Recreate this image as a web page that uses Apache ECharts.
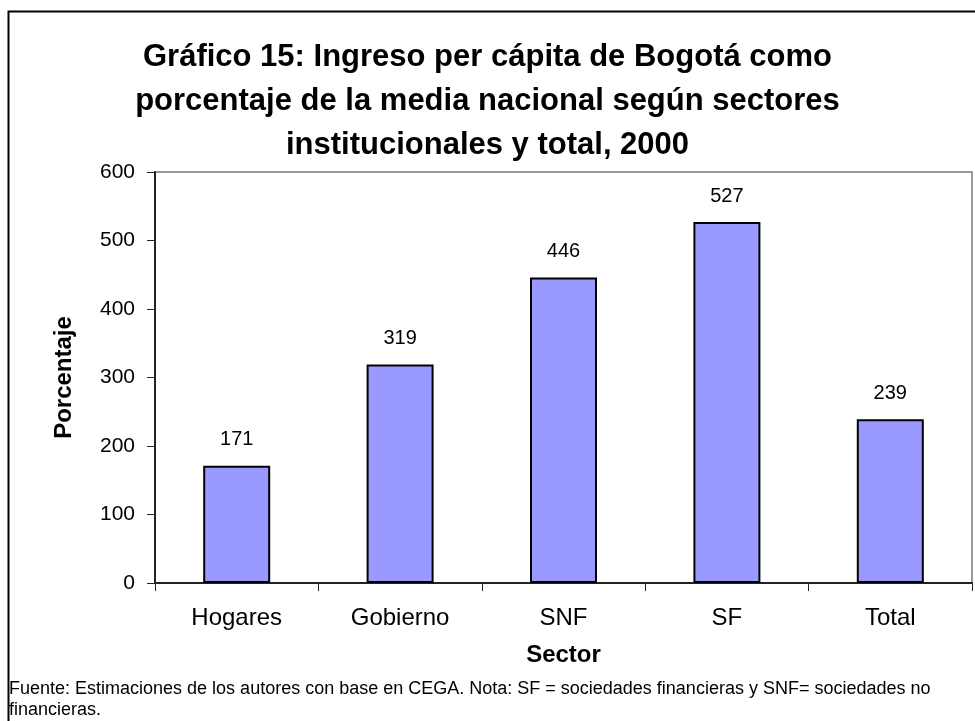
<!DOCTYPE html>
<html>
<head>
<meta charset="utf-8">
<script src="https://cdn.jsdelivr.net/npm/echarts@6/dist/echarts.min.js"></script>
<style>
  html, body { margin: 0; padding: 0; background: #fff; }
  #chart { width: 975px; height: 721px; }
</style>
</head>
<body>
<div id="chart"></div>
<script>
// categorias y valores
var sectores = ['Hogares', 'Gobierno', 'SNF', 'SF', 'Total'];
var porcentajes = [171, 319, 446, 527, 239];
var ticksY = [0, 100, 200, 300, 400, 500, 600];

var titulo = 'Gráfico 15: Ingreso per cápita de Bogotá como\nporcentaje de la media nacional según sectores\ninstitucionales y total, 2000';
var nota = 'Fuente: Estimaciones de los autores con base en CEGA. Nota: SF = sociedades financieras y SNF= sociedades no\nfinancieras.';

var fuente = 'Liberation Sans, Arial, sans-serif';

var myChart = echarts.init(document.getElementById('chart'));

var option = {
  backgroundColor: '#fff',
  animation: false,
  title: {
    text: titulo,
    left: 'center',
    top: 30,
    textStyle: {
      fontFamily: fuente,
      fontSize: 31,
      fontWeight: 'bold',
      color: '#000',
      lineHeight: 44
    }
  },
  grid: {
    left: 155,
    right: 3,
    top: 172,
    bottom: 138,
    show: true,
    borderColor: '#999',
    borderWidth: 2,
    backgroundColor: 'transparent'
  },
  xAxis: {
    type: 'category',
    data: sectores,
    name: 'Sector',
    nameLocation: 'middle',
    nameGap: 60,
    nameTextStyle: { fontFamily: fuente, fontSize: 24, fontWeight: 'bold', color: '#000' },
    axisLine: { lineStyle: { color: '#222', width: 2 } },
    axisTick: { show: true, length: 8, alignWithLabel: false, lineStyle: { color: '#222', width: 1 } },
    axisLabel: { fontFamily: fuente, fontSize: 24, color: '#000', margin: 23 },
    splitLine: { show: false }
  },
  yAxis: {
    type: 'value',
    min: 0,
    max: 600,
    interval: 100,
    name: 'Porcentaje',
    nameLocation: 'middle',
    nameGap: 79,
    nameRotate: 90,
    nameTextStyle: { fontFamily: fuente, fontSize: 24, fontWeight: 'bold', color: '#000' },
    axisLine: { show: true, lineStyle: { color: '#222', width: 2 } },
    axisTick: { show: true, inside: false, length: 8, lineStyle: { color: '#222', width: 1 } },
    axisLabel: {
      fontFamily: fuente, fontSize: 21, color: '#000', margin: 20,
      formatter: function (v) { return ticksY.indexOf(v) >= 0 ? String(v) : ''; }
    },
    splitLine: { show: false }
  },
  series: [{
    type: 'bar',
    data: porcentajes,
    barWidth: '41%',
    itemStyle: { color: '#9999ff', borderColor: '#000', borderWidth: 2 },
    label: {
      show: true,
      position: 'top',
      distance: 16,
      fontFamily: fuente,
      fontSize: 20,
      color: '#000'
    }
  }],
  graphic: [
    {
      type: 'rect',
      shape: { x: 8.5, y: 11.5, width: 1000, height: 1000 },
      style: { fill: 'none', stroke: '#000', lineWidth: 2 },
      silent: true
    },
    {
      type: 'text',
      left: 9,
      top: 679,
      style: {
        text: nota,
        fontFamily: fuente,
        fontSize: 18,
        lineHeight: 21,
        fill: '#000'
      }
    }
  ]
};

myChart.setOption(option);
</script>
</body>
</html>
